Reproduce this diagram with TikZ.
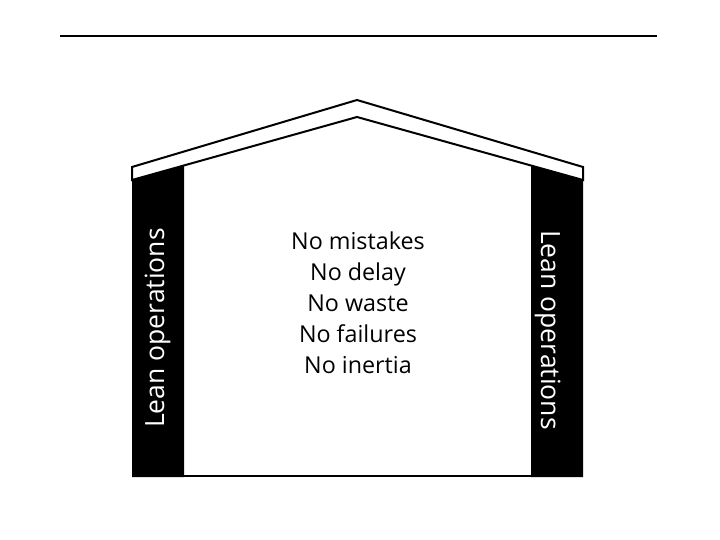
\documentclass[tikz,border=0pt]{standalone}
\usepackage{fontspec}
\setmainfont{Open Sans}
\begin{document}
\begin{tikzpicture}[x=1pt,y=-1pt,
  outline/.style={line width=2pt, line join=miter},
  pillarfill/.style={fill=black},
  pillartext/.style={text=white, font=\fontsize{26.5}{30}\selectfont, inner sep=0pt},
  centertext/.style={text=black, align=center, font=\fontsize{23.3}{31}\selectfont, inner sep=0pt}]
\useasboundingbox (0,0) rectangle (720,540);
\fill[white] (0,0) rectangle (720,540);
% top rule
\draw[line width=1.3pt] (60,36) -- (657,36);
\draw[line width=2.2pt] (620,36.3) -- (657,36.3);
% pillars
\fill[pillarfill] (132,180) -- (184,165.4) -- (184,477) -- (132,477) -- cycle;
\fill[pillarfill] (531,165.7) -- (583,180) -- (583,477) -- (531,477) -- cycle;
% roof band
\draw[outline] (132,180) -- (132,167) -- (357,100) -- (583,167) -- (583,180) -- (357,117) -- cycle;
% floor
\draw[line width=2pt] (132,476) -- (583,476);
% texts
\node[pillartext, rotate=90, anchor=base] (lt) at (164,328) {Lean operations};
\node[pillartext, rotate=-90, anchor=base] (rt) at (541,330) {Lean operations};
\node[centertext] (ct) at (358,303) {No mistakes\\No delay\\No waste\\No failures\\No inertia};
\end{tikzpicture}
\end{document}
